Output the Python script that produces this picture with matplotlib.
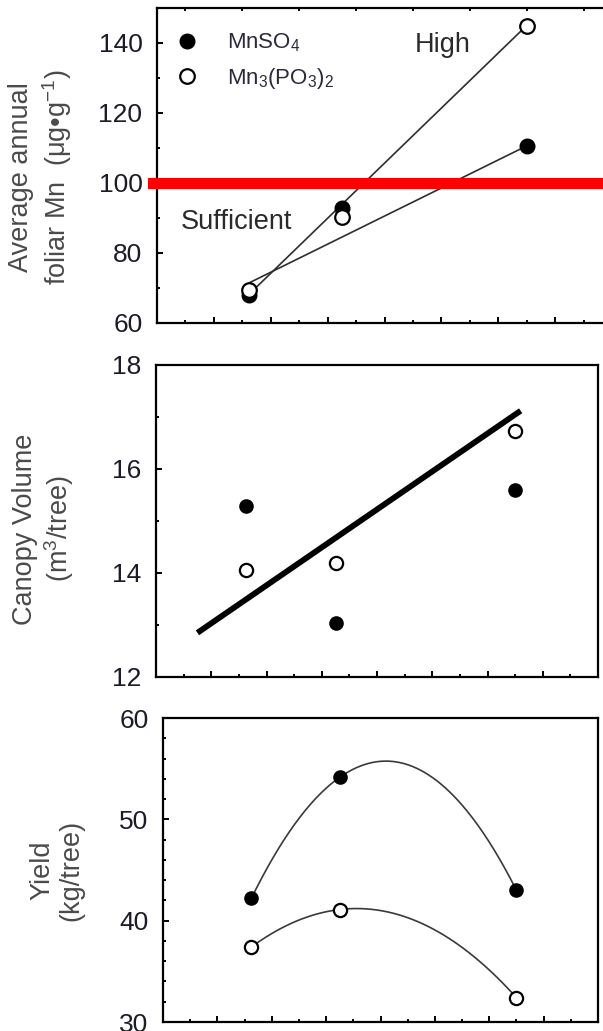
import numpy as np
import matplotlib
matplotlib.use('Agg')
import matplotlib.pyplot as plt
from matplotlib.lines import Line2D

plt.rcParams['font.family'] = ['Liberation Sans', 'DejaVu Sans']
plt.rcParams['mathtext.fontset'] = 'custom'
plt.rcParams['mathtext.rm'] = 'Liberation Sans'
plt.rcParams['mathtext.it'] = 'Liberation Sans:italic'

# Mn application rate (relative units along the shared x axis)
rates = [3.25, 6.5, 13.0]

# foliar Mn (ug/g)
foliar_mnso4 = [68.0, 92.9, 110.6]
foliar_mnp = [69.5, 90.3, 144.9]
foliar_fit_mnso4 = [71.5, 110.6]
foliar_fit_mnp = [68.3, 145.0]
sufficient_level = 100

# canopy volume (m3/tree)
canopy_mnso4 = [15.29, 13.03, 15.6]
canopy_mnp = [14.06, 14.2, 16.74]
canopy_fit_x = [1.5, 13.2]
canopy_fit_y = [12.85, 17.12]

# yield (kg/tree)
yield_mnso4 = [42.2, 54.15, 43.0]
yield_mnp = [37.4, 41.1, 32.4]

TICK_COLOR = '#1c1c28'
LABEL_COLOR = '#4a4a4a'
W, H = 603, 1031


def px_axes(fig, left, right, top, bottom):
    return fig.add_axes([left / W, 1 - bottom / H, (right - left) / W, (bottom - top) / H])


def style_axes(ax, ymaj, ymin, top_minor=False):
    ax.set_xlim(0, 16)
    ax.set_xticks(np.arange(2, 16, 2))
    ax.set_xticks(np.arange(1, 16, 2), minor=True)
    ax.set_yticks(ymaj)
    ax.set_yticks(ymin, minor=True)
    ax.set_xticklabels([])
    ax.tick_params(which='both', direction='in', width=1.4, colors='black',
                   labelcolor=TICK_COLOR, labelsize=19, pad=10.5)
    ax.tick_params(which='major', length=4.5)
    ax.tick_params(which='minor', length=2.5)
    if top_minor:
        ax.tick_params(which='minor', top=True)
    for sp in ax.spines.values():
        sp.set_linewidth(1.6)


def markers(ax, y_filled, y_open, size=10.5):
    ax.plot(rates, y_filled, 'o', color='black', ms=size, zorder=4)
    ax.plot(rates, y_open, 'o', mfc='white', mec='black', mew=1.6, ms=size, zorder=5)


fig = plt.figure(figsize=(W / 100, H / 100), dpi=100)

# foliar Mn
ax1 = px_axes(fig, 157, 612, 8, 323)
ax1.plot([rates[0], rates[-1]], foliar_fit_mnso4, color='#2e2e2e', lw=1.2, zorder=2)
ax1.plot([rates[0], rates[-1]], foliar_fit_mnp, color='#2e2e2e', lw=1.2, zorder=2)
ax1.axhline(sufficient_level, xmin=-0.008, color='#ff0000', lw=8, zorder=3, clip_on=False)
markers(ax1, foliar_mnso4, foliar_mnp)
ax1.set_ylim(60, 150)
style_axes(ax1, np.arange(60, 141, 20), np.arange(70, 150, 20), top_minor=True)
ax1.spines['right'].set_visible(False)
ax1.text(10.05, 139.4, 'High', fontsize=19.5, color='#2a2a2a', ha='center', va='center')
ax1.text(2.8, 88.9, 'Sufficient', fontsize=19.5, color='#2a2a2a', ha='center', va='center')
handles = [
    Line2D([], [], ls='none', marker='o', color='black', ms=10.5),
    Line2D([], [], ls='none', marker='o', mfc='white', mec='black', mew=1.6, ms=10.5),
]
ax1.legend(handles, ['MnSO$_4$', 'Mn$_3$(PO$_3$)$_2$'], loc='upper left',
           bbox_to_anchor=(0.0, 0.985), frameon=False, fontsize=16,
           handlelength=1.0, handletextpad=1.3, labelspacing=0.53,
           borderaxespad=0.45, borderpad=0.4, labelcolor='#2a2a3a')
fig.text(41 / W, 1 - 177 / H, 'Average annual\nfoliar Mn  (\u03bcg\u2022g$^{-1}$)',
         rotation=90, ha='center', va='center', fontsize=19.5, color=LABEL_COLOR,
         multialignment='center', linespacing=1.25)

# canopy volume
ax2 = px_axes(fig, 156, 598, 365, 677)
ax2.plot(canopy_fit_x, canopy_fit_y, color='black', lw=4.2, solid_capstyle='butt', zorder=2)
markers(ax2, canopy_mnso4, canopy_mnp, size=9.5)
ax2.set_ylim(12, 18)
style_axes(ax2, np.arange(12, 19, 2), np.arange(13, 18, 2))
fig.text(44 / W, 1 - 529 / H, 'Canopy Volume\n(m$^3$/tree)',
         rotation=90, ha='center', va='center', fontsize=19.5, color=LABEL_COLOR,
         multialignment='center', linespacing=1.15)

# yield with quadratic curves through each series
ax3 = px_axes(fig, 163, 598, 718, 1022)
xs = np.linspace(rates[0], rates[-1], 200)
for ys in (yield_mnso4, yield_mnp):
    coef = np.polyfit(rates, ys, 2)
    ax3.plot(xs, np.polyval(coef, xs), color='#3a3a3a', lw=1.2, zorder=2)
markers(ax3, yield_mnso4, yield_mnp, size=9.5)
ax3.set_ylim(30, 60)
style_axes(ax3, np.arange(30, 61, 10), [y for y in range(32, 60, 2) if y % 10])
fig.text(57 / W, 1 - 870 / H, 'Yield\n(kg/tree)',
         rotation=90, ha='center', va='center', fontsize=19.5, color=LABEL_COLOR,
         multialignment='center', linespacing=1.15)

fig.savefig('out.png', dpi=100)
